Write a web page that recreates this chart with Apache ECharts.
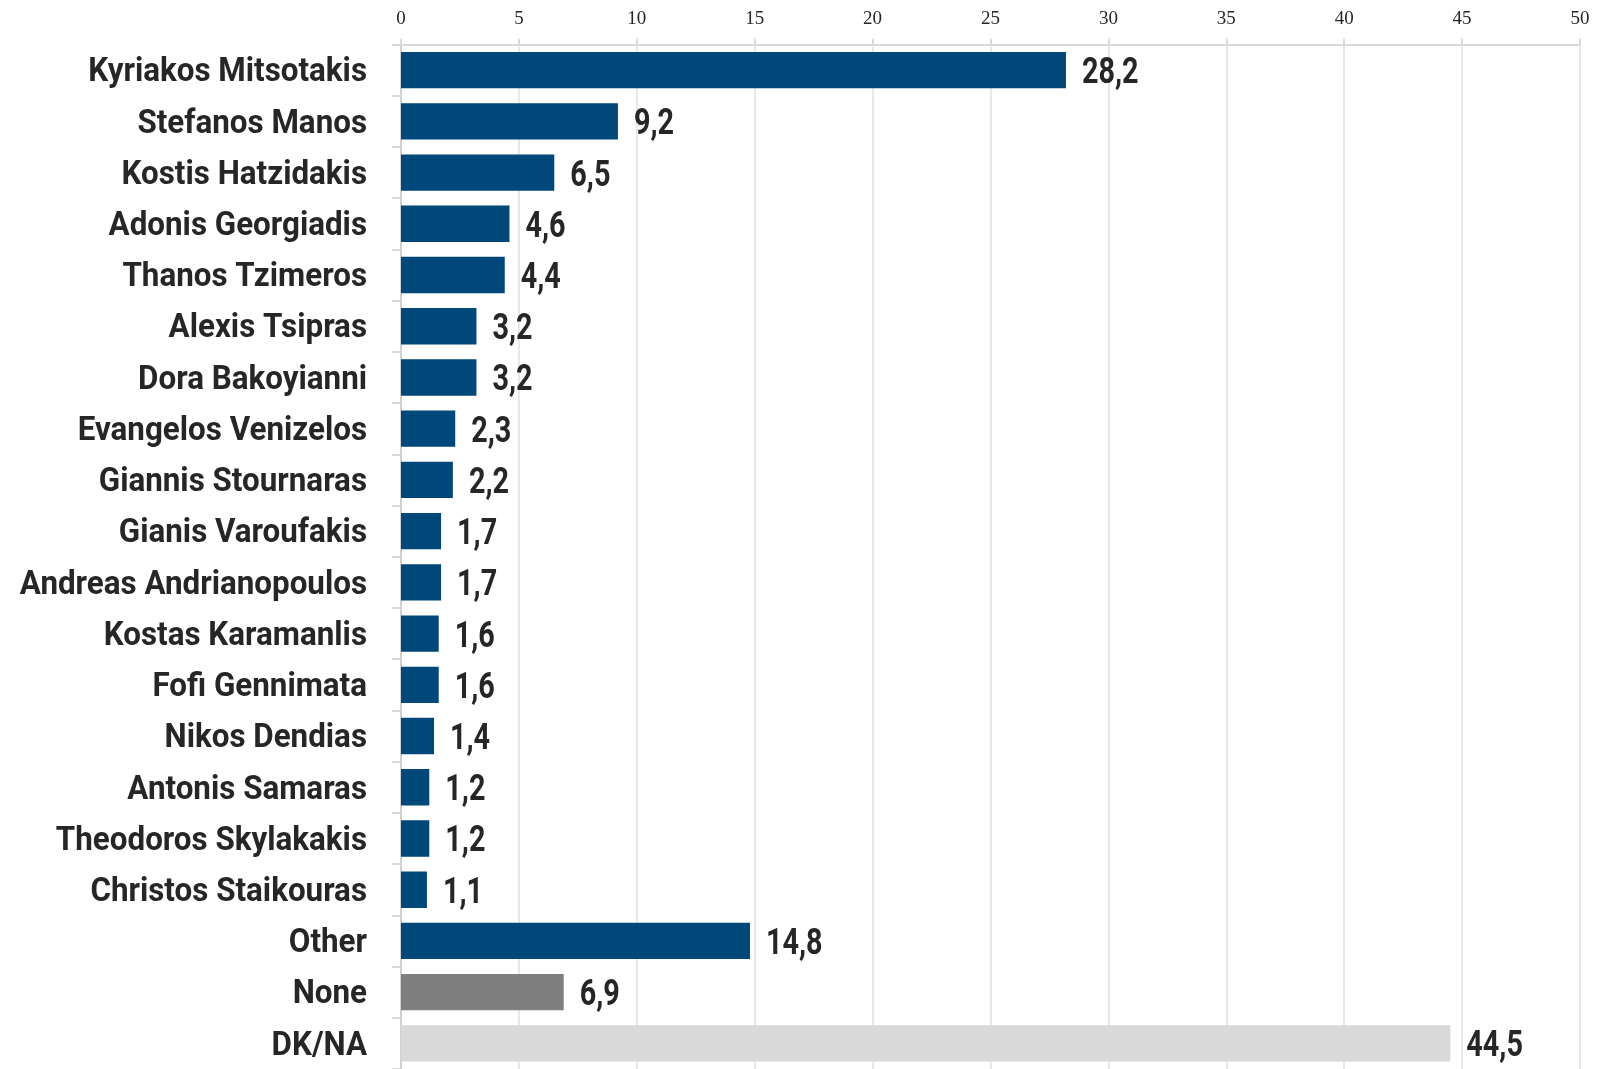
<!DOCTYPE html>
<html>
<head>
<meta charset="utf-8">
<script src="https://cdn.jsdelivr.net/npm/echarts@6/dist/echarts.min.js"></script>
<style>
html,body{margin:0;padding:0;background:#fff;}
#chart{width:1599px;height:1069px;}
</style>
</head>
<body>
<div id="chart"></div>
<script>
const categories = ["Kyriakos Mitsotakis","Stefanos Manos","Kostis Hatzidakis","Adonis Georgiadis","Thanos Tzimeros","Alexis Tsipras","Dora Bakoyianni","Evangelos Venizelos","Giannis Stournaras","Gianis Varoufakis","Andreas Andrianopoulos","Kostas Karamanlis","Fofi Gennimata","Nikos Dendias","Antonis Samaras","Theodoros Skylakakis","Christos Staikouras","Other","None","DK/NA"];
const values = [28.2,9.2,6.5,4.6,4.4,3.2,3.2,2.3,2.2,1.7,1.7,1.6,1.6,1.4,1.2,1.2,1.1,14.8,6.9,44.5];
const xTicks = [0,5,10,15,20,25,30,35,40,45,50];

const specialColors = {"None":"#7f7f7f","DK/NA":"#d9d9d9"};
const baseColor = "#00477a";
const textColor = "#262626";

const chart = echarts.init(document.getElementById('chart'), null, {renderer:'canvas'});
chart.setOption({
  animation:false,
  backgroundColor:'#ffffff',
  grid:{left:401, top:44.5, width:1179, height:1026.6, containLabel:false},
  xAxis:{
    type:'value', position:'top', min:xTicks[0], max:xTicks[xTicks.length-1], interval:5,
    axisLine:{show:true, lineStyle:{color:'#d9d9d9', width:2}},
    axisTick:{show:true, inside:false, length:6, lineStyle:{color:'#d9d9d9', width:2}},
    splitLine:{show:true, lineStyle:{color:'#e0e0e0', width:1.5}},
    axisLabel:{margin:16, fontFamily:"'Liberation Serif','DejaVu Serif',serif", fontSize:19, color:textColor}
  },
  yAxis:{
    type:'category', data:categories, inverse:true,
    axisLine:{show:true, lineStyle:{color:'#d0d0d0', width:2}},
    axisTick:{show:true, length:9, lineStyle:{color:'#d9d9d9', width:2}},
    axisLabel:{show:false}
  },
  series:[{
    type:'bar',
    silent:true,
    data:values.map((v,i)=>({value:v, itemStyle:{color: specialColors[categories[i]] || baseColor}})),
    barCategoryGap:'29%'
  },{
    type:'custom',
    silent:true, clip:false,
    data:categories.map((c,i)=>[0,i]),
    renderItem:function(params, api){
      const p = api.coord([0, params.dataIndex]);
      return {type:'text', x:p[0]-34, y:p[1]+3, scaleX:0.95, originX:0, originY:0,
        style:{text:categories[params.dataIndex], x:0, y:0, align:'right', verticalAlign:'middle',
          font:"bold 33px Roboto, 'Liberation Sans', sans-serif", fill:textColor}};
    }
  },{
    type:'custom',
    silent:true, clip:false,
    data:values.map((v,i)=>[v,i]),
    renderItem:function(params, api){
      const v = values[params.dataIndex];
      const p = api.coord([v, params.dataIndex]);
      return {type:'text', x:p[0]+16, y:p[1]+4, scaleX:0.8, originX:0, originY:0,
        style:{text:String(v).replace('.',','), x:0, y:0, align:'left', verticalAlign:'middle',
          font:"bold 36px Roboto, 'Liberation Sans', sans-serif", fill:textColor}};
    }
  }]
});
</script>
</body>
</html>
